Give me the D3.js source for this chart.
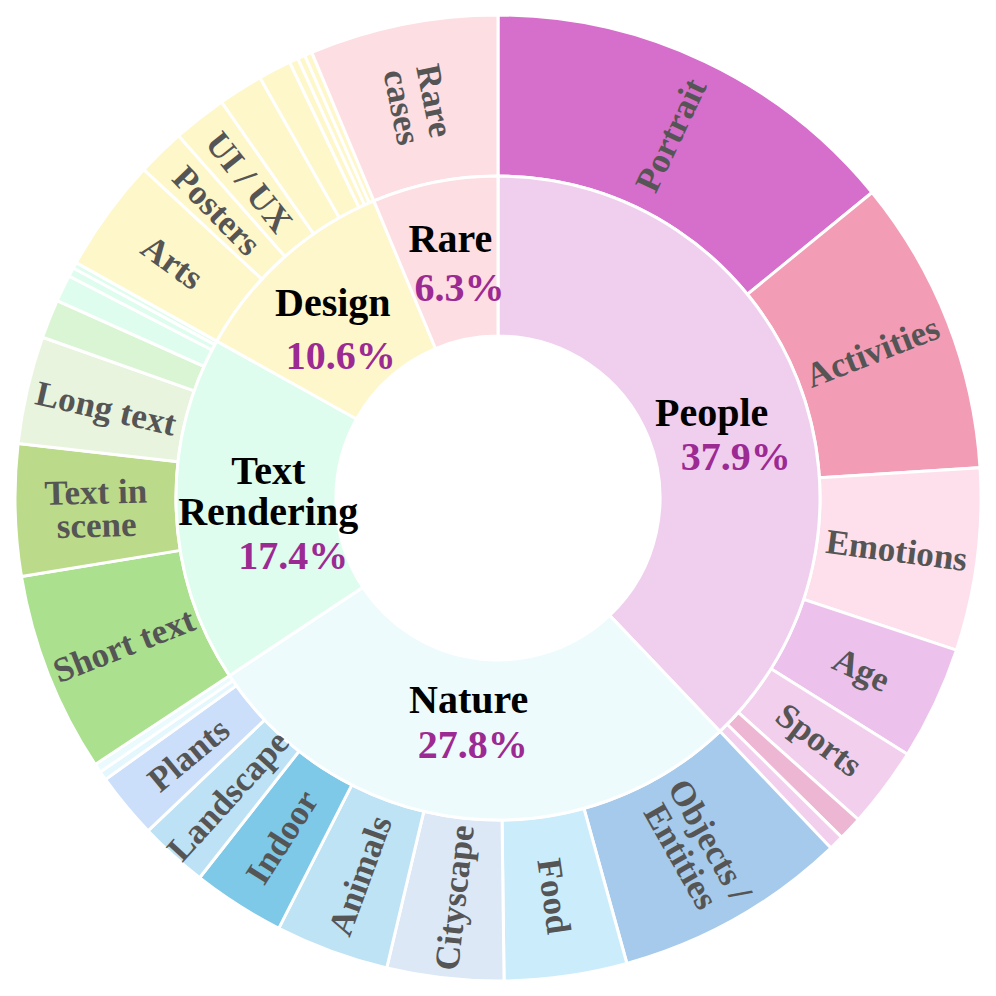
<!DOCTYPE html>
<html><head><meta charset="utf-8">
<script src="https://cdn.jsdelivr.net/npm/d3@7"></script>
<style>html,body{margin:0;padding:0;background:#fff;} svg{display:block;}</style>
</head><body>
<svg id="chart" width="996" height="996"></svg>
<script>
// ---------- data ----------
const categories = ["People", "Nature", "Text\nRendering", "Design", "Rare"];
const categoryShares = [37.9, 27.8, 17.4, 10.6, 6.3];
const categoryColors = ["#F0CEEE", "#EEFBFD", "#DFFDEF", "#FEF7CC", "#FDDEE2"];

const peopleLabels = ["Portrait", "Activities", "Emotions", "Age", "Sports", "", ""];
const peopleValues = [14.1, 9.9, 6.1, 3.8, 2.7, 0.8, 0.5];
const peopleColors = ["#D66ECB", "#F29CB5", "#FDE0EC", "#ECC2EC", "#F3CFEE", "#EDB6D2", "#F3CFEE"];

const natureLabels = ["Objects /\nEntities", "Food", "Cityscape", "Animals", "Indoor", "Landscape", "Plants", "", ""];
const natureValues = [7.8, 4.1, 3.9, 3.8, 3.1, 2.3, 2.2, 0.3, 0.3];
const natureColors = ["#A6CAEB", "#CBEDFB", "#DCE8F6", "#BEE3F4", "#7EC8E8", "#BDE2F5", "#CCDFFA", "#E3F7FC", "#EBFAFD"];

const textLabels = ["Short text", "Text in\nscene", "Long text", "", "", "", ""];
const textValues = [6.7, 4.4, 3.6, 1.3, 0.9, 0.3, 0.2];
const textColors = ["#AAE08E", "#BBDB8A", "#E9F4DE", "#D9F5D3", "#DFFDEE", "#DFFDEE", "#DFFDEE"];

const designLabels = ["Arts", "Posters", "UI / UX", "", "", "", "", ""];
const designValues = [3.8, 1.6, 1.8, 1.5, 1.1, 0.3, 0.25, 0.25];
const designColors = ["#FEF7CA", "#FEF7CA", "#FEF7CA", "#FEF7CA", "#FEF7CA", "#FEF7CA", "#FEF7CA", "#FEF7CA"];

const rareLabels = ["Rare\ncases"];
const rareValues = [6.3];
const rareColors = ["#FDDEE2"];

// ---------- layout (not data) ----------
const W = 996, H = 996, CX = 498, CY = 498;
const R0 = 162, R1 = 322, R2 = 483;
const outerFont = 35, innerFont = 40, innerLine = 41;
// label nudges relative to the inner-ring centroid: [name dx, name dy, pct dx, pct dy]
const innerNudge = [[-11, 18, 13, 62], [-2, -25, 2, 20], [12, -23, 37, 62], [-4, -1, 4, 52], [0, -9, 9, 40]];

const groups = [
  {labels: peopleLabels, values: peopleValues, colors: peopleColors},
  {labels: natureLabels, values: natureValues, colors: natureColors},
  {labels: textLabels, values: textValues, colors: textColors},
  {labels: designLabels, values: designValues, colors: designColors},
  {labels: rareLabels, values: rareValues, colors: rareColors}
];

const total = d3.sum(categoryShares);
const angle = d3.scaleLinear().domain([0, total]).range([0, 2 * Math.PI]);

const svg = d3.select("#chart");
const g = svg.append("g").attr("transform", `translate(${CX},${CY})`);

// inner ring data
let acc = 0;
const inner = categories.map((c, i) => {
  const d = {name: c, share: categoryShares[i], color: categoryColors[i], s: acc, e: acc + categoryShares[i], i};
  acc += categoryShares[i];
  return d;
});
// outer ring data
const outer = [];
acc = 0;
groups.forEach((grp) => {
  grp.values.forEach((v, j) => {
    outer.push({label: grp.labels[j], color: grp.colors[j], s: acc, e: acc + v});
    acc += v;
  });
});

const arcInner = d3.arc().innerRadius(R0).outerRadius(R1)
  .startAngle(d => angle(d.s)).endAngle(d => angle(d.e));
const arcOuter = d3.arc().innerRadius(R1).outerRadius(R2)
  .startAngle(d => angle(d.s)).endAngle(d => angle(d.e));

g.selectAll("path.outer").data(outer).join("path")
  .attr("class", "outer")
  .attr("d", arcOuter)
  .attr("fill", d => d.color)
  .attr("stroke", "#fff").attr("stroke-width", 3).attr("stroke-linejoin", "miter");

g.selectAll("path.inner").data(inner).join("path")
  .attr("class", "inner")
  .attr("d", arcInner)
  .attr("fill", d => d.color)
  .attr("stroke", "#fff").attr("stroke-width", 3).attr("stroke-linejoin", "miter");

const serif = "'Liberation Serif','Times New Roman',Times,serif";

// outer labels
const rMid = (R1 + R2) / 2 - 0.5;
outer.filter(d => d.label).forEach(d => {
  const a = (angle(d.s) + angle(d.e)) / 2 * 180 / Math.PI;
  const lines = d.label.split("\n");
  const t = g.append("text")
    .attr("transform", `rotate(${a - 90}) translate(${rMid},0) rotate(${a < 180 ? 0 : 180})`)
    .attr("text-anchor", "middle")
    .attr("font-family", serif).attr("font-weight", "bold")
    .attr("font-size", outerFont).attr("fill", "#555555");
  const lh = 0.95;
  lines.forEach((ln, k) => {
    t.append("tspan").attr("x", 0)
      .attr("dy", k === 0 ? `${0.35 - (lines.length - 1) * lh / 2}em` : `${lh}em`)
      .text(ln);
  });
});

// inner labels
inner.forEach(d => {
  const [cx, cy] = arcInner.centroid(d);
  const n = innerNudge[d.i];
  const lines = d.name.split("\n");
  const t = g.append("text")
    .attr("text-anchor", "middle")
    .attr("font-family", serif).attr("font-weight", "bold")
    .attr("font-size", innerFont).attr("fill", "#000");
  lines.forEach((ln, k) => {
    t.append("tspan").attr("x", cx + n[0])
      .attr("y", cy + n[1] + k * innerLine)
      .text(ln);
  });
  g.append("text")
    .attr("x", cx + n[2]).attr("y", cy + n[3])
    .attr("text-anchor", "middle")
    .attr("font-family", serif).attr("font-weight", "bold")
    .attr("font-size", innerFont).attr("fill", "#9C2A93")
    .text(d.share.toFixed(1) + "%");
});
</script>
</body></html>
